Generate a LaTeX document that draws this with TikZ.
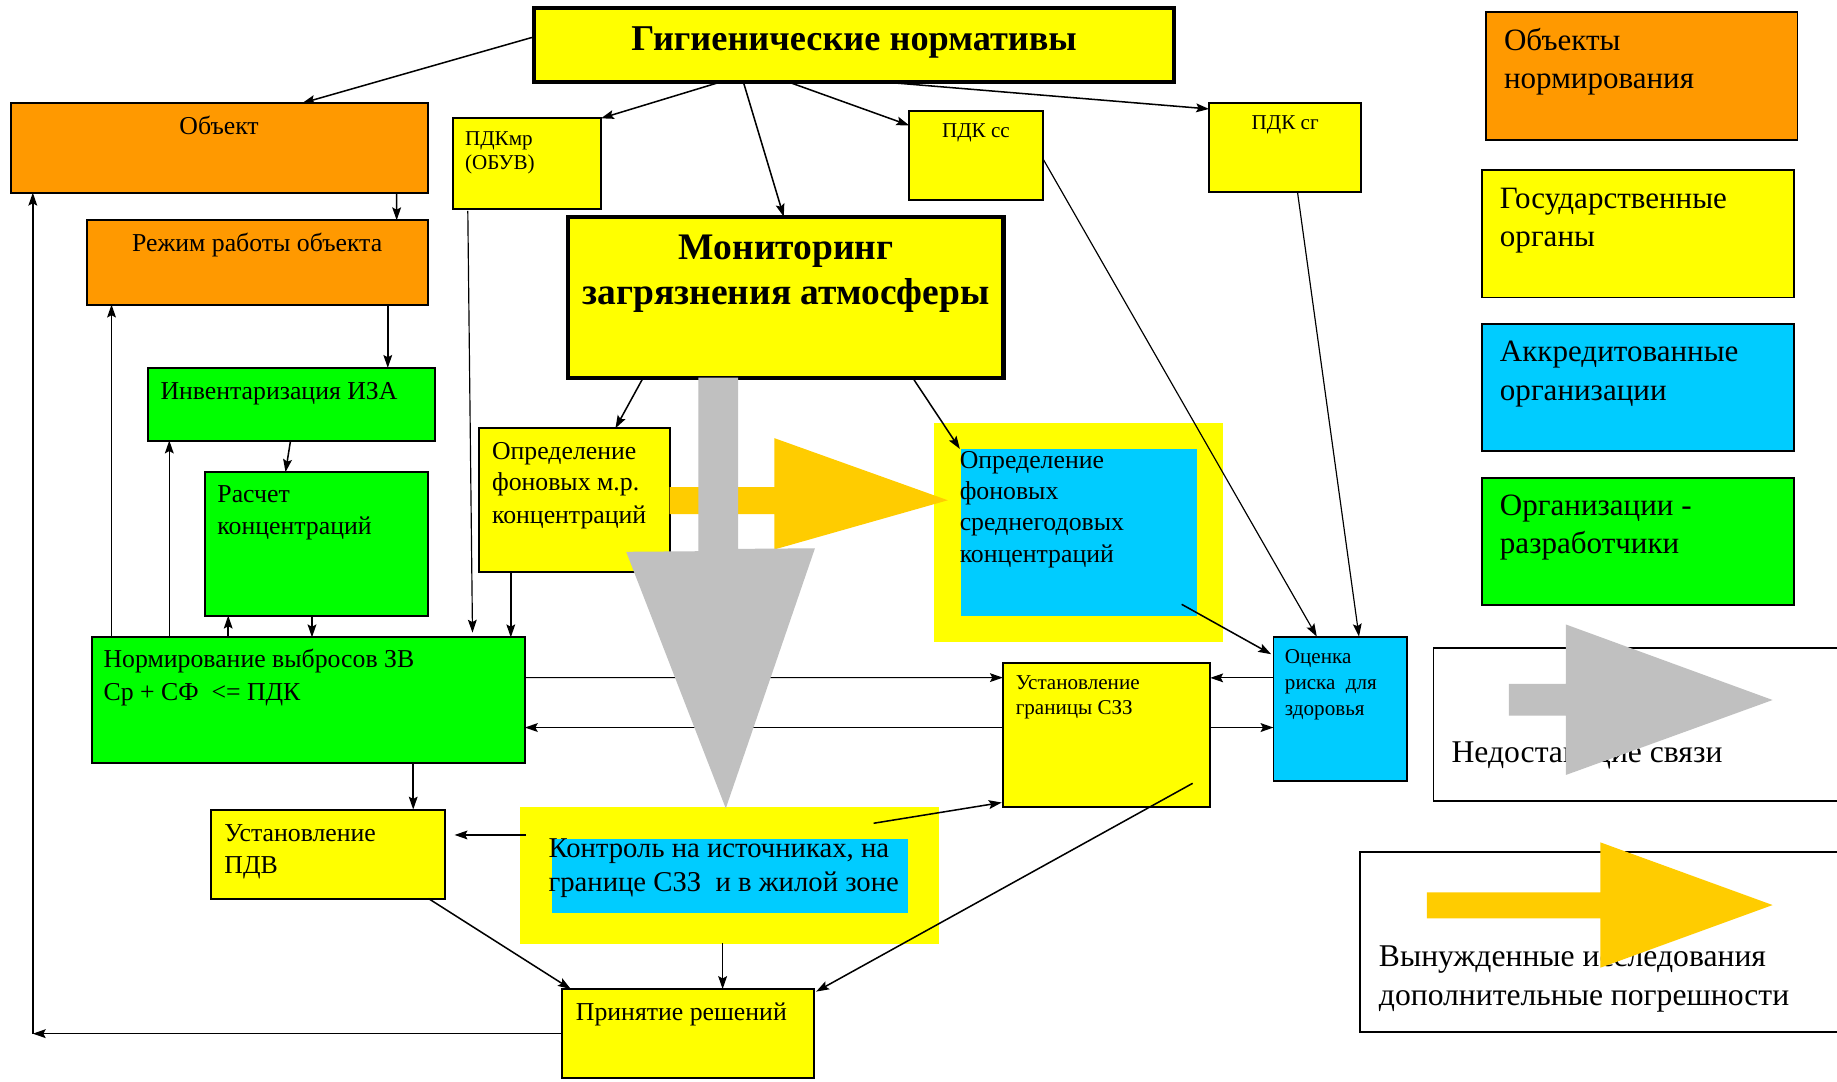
\documentclass[tikz,border=0pt]{standalone}
\usepackage{fontspec}
\setmainfont{Liberation Serif}
\usetikzlibrary{fit,arrows.meta}
\definecolor{cOrange}{RGB}{255,153,0}
\definecolor{cYellow}{RGB}{255,255,0}
\definecolor{cCyan}{RGB}{0,204,255}
\definecolor{cGreen}{RGB}{0,255,0}
\definecolor{cGold}{RGB}{255,204,0}
\definecolor{cGray}{RGB}{192,192,192}
\begin{document}
\begin{tikzpicture}[x=1pt,y=-1pt,
  box/.style={draw=black, line width=1.7pt, inner sep=0pt, outer sep=0pt},
  thickbox/.style={box, line width=3.5pt},
  bgbox/.style={inner sep=0pt, outer sep=0pt},
  legbox/.style={draw=black, line width=1.5pt, inner sep=0pt, outer sep=0pt},
  arr/.style={-{Stealth[length=11pt,width=7.5pt,inset=2pt]}, line width=1.3pt},
  thinarr/.style={arr, line width=1pt},
  tx/.style={inner sep=0pt, outer sep=0pt, font=\fontsize{22}{26}\selectfont},
  txs/.style={tx, font=\fontsize{18}{21}\selectfont},
  txk/.style={tx, font=\fontsize{24.5}{28}\selectfont},
  txl/.style={tx, font=\fontsize{26.5}{30}\selectfont},
  txm/.style={tx, font=\fontsize{27}{31}\selectfont},
  txt/.style={tx, font=\fontsize{31}{36}\selectfont\bfseries},
  txb/.style={tx, font=\fontsize{32}{37}\selectfont\bfseries},
  bigarrow/.style={draw=none}
]
\useasboundingbox (0,0) rectangle (1568,923);
\fill[white] (0,0) rectangle (1568,923);
\clip (0,0) rectangle (1568,923);

% ---------- boxes ----------
\node[thickbox, fill=cYellow, fit={(456,7)(1002,70)}] (gig) {};
\node[thickbox, fill=cYellow, fit={(485,185)(856.5,322.4)}] (mon) {};
\node[box, fill=cYellow, fit={(387,101)(513,178)}] (pdkmr) {};
\node[box, fill=cYellow, fit={(776,94.5)(890.5,171)}] (pdkss) {};
\node[box, fill=cYellow, fit={(1032,88)(1162,164)}] (pdksg) {};
\node[box, fill=cOrange, fit={(9,88)(365.5,164.5)}] (obj) {};
\node[box, fill=cOrange, fit={(74.3,188)(365.5,260)}] (mode) {};
\node[box, fill=cGreen, fit={(126,314)(371,376)}] (inv) {};
\node[box, fill=cGreen, fit={(175,403)(365.5,525.5)}] (rasch) {};
\node[box, fill=cGreen, fit={(78.3,544)(448,651)}] (norm) {};
\node[box, fill=cYellow, fit={(409,365.6)(571.5,488)}] (fonmr) {};
\node[bgbox, fill=cYellow, fit={(797.5,361)(1044,548)}] (fonsgY) {};
\node[bgbox, fill=cCyan, fit={(820.3,383.2)(1021.7,525.5)}] (fonsgC) {};
\node[box, fill=cCyan, fit={(1087,543.4)(1201.3,666.3)}] (risk) {};
\node[box, fill=cYellow, fit={(856,565.6)(1033,688.5)}] (szz) {};
\node[box, fill=cYellow, fit={(179.7,691)(380,767)}] (pdv) {};
\node[bgbox, fill=cYellow, fit={(443.7,689)(801.8,806)}] (kontY) {};
\node[bgbox, fill=cCyan, fit={(471,716.4)(774.6,779)}] (kontC) {};
\node[box, fill=cYellow, fit={(480,844.2)(694.6,920.4)}] (prin) {};
% legend
\node[legbox, fill=cOrange, fit={(1268.2,10.4)(1534.3,119.7)}] (leg1) {};
\node[legbox, fill=cYellow, fit={(1265,145)(1531.5,254)}] (leg2) {};
\node[legbox, fill=cCyan, fit={(1265,276.5)(1531.5,385)}] (leg3) {};
\node[legbox, fill=cGreen, fit={(1265,407.7)(1531.5,516.3)}] (leg4) {};
\node[legbox, fill=white, fit={(1223.6,553)(1590,684)}] (leg5) {};
\node[legbox, fill=white, fit={(1161,727.5)(1590,881)}] (leg6) {};

% ---------- texts ----------
\node[txt, anchor=base] (gigt) at (729,43.3) {Гигиенические нормативы};
\node[txb, anchor=base] (mont1) at (671,221.3) {Мониторинг};
\node[txb, anchor=base] (mont2) at (671,259.5) {загрязнения атмосферы};
\node[txs, anchor=base west] (pdkmrt1) at (397,124.3) {ПДКмр};
\node[txs, anchor=base west] (pdkmrt2) at (397,145) {(ОБУВ)};
\node[txs, anchor=base] (pdksst) at (833,117.2) {ПДК сс};
\node[txs, anchor=base] (pdksgt) at (1097,110.3) {ПДК сг};
\node[tx, anchor=base] (objt) at (187,114.7) {Объект};
\node[tx, anchor=base] (modet) at (219.5,214.8) {Режим работы объекта};
\node[tx, anchor=base west] (invt) at (137,341.4) {Инвентаризация ИЗА};
\node[tx, anchor=base west] (rascht1) at (185.6,429) {Расчет};
\node[tx, anchor=base west] (rascht2) at (185.6,456) {концентраций};
\node[tx, anchor=base west] (normt1) at (88.4,569.6) {Нормирование выбросов ЗВ};
\node[tx, anchor=base west] (normt2) at (88.4,597.5) {Ср + СФ\ \ <= ПДК};
\node[tx, anchor=base west] (fonmrt1) at (420,392.6) {Определение};
\node[tx, anchor=base west] (fonmrt2) at (420,419) {фоновых м.р.};
\node[tx, anchor=base west] (fonmrt3) at (420,446.7) {концентраций};
\node[tx, anchor=base west] (fonsgt1) at (819.2,399.7) {Определение};
\node[tx, anchor=base west] (fonsgt2) at (819.2,426.2) {фоновых};
\node[tx, anchor=base west] (fonsgt3) at (819.2,453) {среднегодовых};
\node[tx, anchor=base west] (fonsgt4) at (819.2,480.3) {концентраций};
\node[txs, anchor=base west] (riskt1) at (1096.8,566.7) {Оценка};
\node[txs, anchor=base west] (riskt2) at (1096.8,588.4) {риска\ \ для};
\node[txs, anchor=base west] (riskt3) at (1096.8,610.3) {здоровья};
\node[txs, anchor=base west] (szzt1) at (867,588.4) {Установление};
\node[txs, anchor=base west] (szzt2) at (867,609.7) {границы СЗЗ};
\node[tx, anchor=base west] (pdvt1) at (191.6,718.4) {Установление};
\node[tx, anchor=base west] (pdvt2) at (191.6,745.4) {ПДВ};
\node[txk, anchor=base west] (kontt1) at (468.2,731.7) {Контроль на источниках, на};
\node[txk, anchor=base west] (kontt2) at (468.2,761) {границе СЗЗ\ \ и в жилой зоне};
\node[tx, anchor=base west] (print) at (491.6,871.2) {Принятие решений};
\node[txl, anchor=base west] (leg1t1) at (1283.8,43.4) {Объекты};
\node[txl, anchor=base west] (leg1t2) at (1283.8,75.3) {нормирования};
\node[txl, anchor=base west] (leg2t1) at (1280.3,177.6) {Государственные};
\node[txl, anchor=base west] (leg2t2) at (1280.3,210) {органы};
\node[txl, anchor=base west] (leg3t1) at (1280.3,308.8) {Аккредитованные};
\node[txl, anchor=base west] (leg3t2) at (1280.3,341.8) {организации};
\node[txl, anchor=base west] (leg4t1) at (1280.3,440) {Организации -};
\node[txl, anchor=base west] (leg4t2) at (1280.3,472.6) {разработчики};
\node[txm, anchor=base west] (leg5t) at (1239,651) {Недостающие связи};
\node[txm, anchor=base west] (leg6t1) at (1177,825) {Вынужденные исследования};
\node[txm, anchor=base west] (leg6t2) at (1177,858) {дополнительные погрешности};

% ---------- connectors ----------
\draw[arr] ([xshift=-2,yshift=6.5]gig.west) -- ([xshift=249]obj.north west);
\draw[arr] ([xshift=159]gig.south west) -- (pdkmr.north east);
\draw[arr] ([xshift=178.5]gig.south west) -- ([xshift=184]mon.north west);
\draw[arr] ([xshift=217]gig.south west) -- ([yshift=-12.5]pdkss.north west);
\draw[arr] ([xshift=298]gig.south west) -- ([yshift=-5]pdksg.north west);
\draw[arr] ([xshift=329.5]obj.south west) -- ([xshift=264.3]mode.north west);
\draw[arr] ([xshift=256.7]mode.south west) -- ([xshift=205]inv.north west);
\draw[arr] ([xshift=122]inv.south west) -- ([xshift=68.7]rasch.north west);
\draw[arr] ([xshift=116.5]norm.north west) -- ([xshift=19.8]rasch.south west);
\draw[arr] ([xshift=91.3]rasch.south west) -- ([xshift=188]norm.north west);
\draw[arr] ([xshift=66.2]norm.north west) -- ([xshift=18.5]inv.south west);
\draw[arr] ([xshift=16.9]norm.north west) -- ([xshift=20.9]mode.south west);
\coordinate (loopc) at (28,882.3);
\draw[arr] (prin.west) -- (loopc);
\draw[arr] (loopc) -- ([xshift=19]obj.south west);
\draw[thinarr] ([xshift=12.3,yshift=-2]pdkmr.south west) -- ([xshift=325,yshift=4]norm.north west);
\draw[arr] ([xshift=27]fonmr.south west) -- ([xshift=357.7]norm.north west);
\draw[arr] ([xshift=64]mon.south west) -- ([xshift=116.3]fonmr.north west);
\draw[arr] ([xshift=294]mon.south west) -- ([xshift=-1]fonsgC.north west);
\draw[thinarr] ([yshift=-3.25]pdkss.east) -- ([xshift=37]risk.north west);
\draw[thinarr] ([xshift=75.5]pdksg.south west) -- ([xshift=73]risk.north west);
\draw[arr] ([xshift=-13.1,yshift=9.7]fonsgC.south east) -- ([xshift=-2,yshift=-15]risk.north west);
\draw[thinarr] ([yshift=-34.4]norm.north east) -- ([yshift=-12.8]szz.north west);
\draw[arr] ([yshift=-55.4]szz.north west) -- ([yshift=-77]norm.north east);
\draw[thinarr] ([yshift=-35.2]risk.north west) -- ([yshift=-13]szz.north east);
\draw[arr] ([yshift=-55.4]szz.north east) -- ([yshift=-77.6]risk.north west);
\draw[arr] ([xshift=274.4]norm.south west) -- ([xshift=173]pdv.north west);
\draw[arr] ([xshift=5.3,yshift=-23.7]kontY.north west) -- ([xshift=8,yshift=-21.7]pdv.north east);
\draw[arr] ([xshift=302,yshift=-13.7]kontY.north west) -- ([xshift=-1,yshift=3.5]szz.south west);
\draw[arr] ([xshift=186.1]pdv.south west) -- ([xshift=7.2]prin.north west);
\draw[arr] ([xshift=173.1,yshift=1]kontY.south west) -- ([xshift=136.8]prin.north west);
\draw[arr] ([xshift=-15,yshift=19.9]szz.south east) -- ([xshift=2,yshift=-2.2]prin.north east);

% ---------- big arrows ----------
\fill[cGold] (571.5,415.7) -- (661,415.7) -- (661,374) -- (809,427) -- (661,469) -- (661,438.8) -- (571.5,438.8) -- cycle;
\fill[cGray] (596,322.4) -- (630,322.4) -- (630,468.5) -- (695.6,468) -- (619.5,690) -- (534.5,471) -- (596,470.5) -- cycle;
\fill[cGray] (1288,583.8) -- (1336.5,583.8) -- (1336.5,533) -- (1513,597.5) -- (1336.5,661.5) -- (1336.5,610.8) -- (1288,610.8) -- cycle;
\fill[cGold] (1218,761.6) -- (1366,761.6) -- (1366,719) -- (1513,772.5) -- (1366,826) -- (1366,783.8) -- (1218,783.8) -- cycle;
\end{tikzpicture}
\end{document}
